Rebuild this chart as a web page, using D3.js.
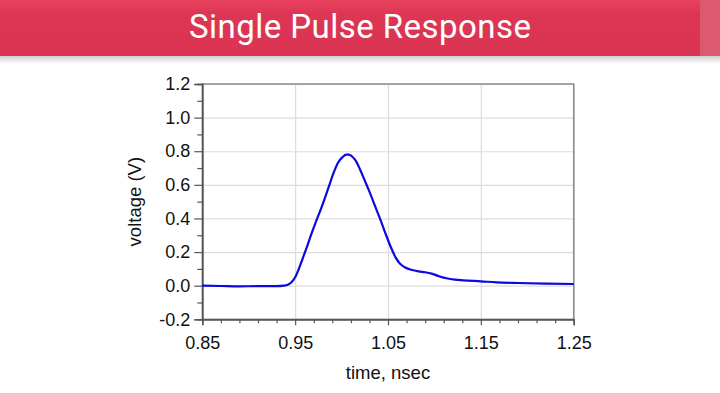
<!DOCTYPE html>
<html>
<head>
<meta charset="utf-8">
<title>Single Pulse Response</title>
<script src="https://cdn.jsdelivr.net/npm/d3@7"></script>
<style>
  body { margin: 0; background: #fff; }
  .axis text { font-family: "Liberation Sans", Arial, sans-serif; font-size: 18px; fill: #111; }
  .axis .domain { stroke: #555; stroke-width: 1.3; }
  .axis line { stroke: #555; stroke-width: 1.2; }
  .grid line { stroke: #dcdcdc; stroke-width: 1.2; }
  .grid .domain { display: none; }
  .label { font-family: "Liberation Sans", Arial, sans-serif; font-size: 18.5px; fill: #111; }
</style>
</head>
<body>
<script>
//Time in nsec
var times = [0.85, 0.87, 0.89, 0.91, 0.93, 0.938, 0.942, 0.946, 0.95, 0.954,
             0.958, 0.962, 0.966, 0.972, 0.98, 0.986, 0.991, 0.996, 1.001, 1.005,
             1.008, 1.011, 1.015, 1.02, 1.025, 1.03, 1.036, 1.042, 1.048, 1.053,
             1.058, 1.063, 1.068, 1.075, 1.083, 1.09, 1.097, 1.104, 1.113, 1.122,
             1.131, 1.15, 1.167, 1.19, 1.22, 1.25]

//Voltage in V
var voltages = [0, -0.002, -0.004, -0.003, -0.003, 0, 0.005, 0.02, 0.05, 0.1,
                0.16, 0.22, 0.285, 0.375, 0.49, 0.585, 0.665, 0.73, 0.765, 0.78,
                0.78, 0.77, 0.745, 0.69, 0.625, 0.56, 0.475, 0.39, 0.3, 0.23,
                0.17, 0.13, 0.11, 0.095, 0.085, 0.08, 0.072, 0.058, 0.044, 0.036,
                0.032, 0.026, 0.02, 0.016, 0.012, 0.01]

//Tick values
var xTicks = [0.85, 0.95, 1.05, 1.15, 1.25]
var yTicks = [-0.2, 0, 0.2, 0.4, 0.6, 0.8, 1.0, 1.2]

var svgwidth = 720,
    svgheight = 393;

var svg = d3.select("body").append("svg")
    .attr("width", svgwidth)
    .attr("height", svgheight);

//Banner gradients
var defs = svg.append("defs");
var bannerGrad = defs.append("linearGradient")
    .attr("id", "banner").attr("x1", 0).attr("y1", 0).attr("x2", 0).attr("y2", 1);
bannerGrad.append("stop").attr("offset", "0").attr("stop-color", "#e8425f");
bannerGrad.append("stop").attr("offset", "0.25").attr("stop-color", "#dd3655");
bannerGrad.append("stop").attr("offset", "1").attr("stop-color", "#db3453");

var shadowGrad = defs.append("linearGradient")
    .attr("id", "shadow").attr("x1", 0).attr("y1", 0).attr("x2", 0).attr("y2", 1);
shadowGrad.append("stop").attr("offset", "0").attr("stop-color", "#cfcfcf");
shadowGrad.append("stop").attr("offset", "1").attr("stop-color", "#ffffff");

//Banner
svg.append("rect").attr("x", 0).attr("y", 56).attr("width", svgwidth).attr("height", 8)
    .attr("fill", "url(#shadow)");
svg.append("rect").attr("x", 0).attr("y", 0).attr("width", svgwidth).attr("height", 56)
    .attr("fill", "url(#banner)");
svg.append("rect").attr("x", 700).attr("y", 0).attr("width", 20).attr("height", 56)
    .attr("fill", "#dc5a70");

svg.append("text")
    .attr("x", 360)
    .attr("y", 38)
    .attr("text-anchor", "middle")
    .attr("textLength", 342)
    .attr("lengthAdjust", "spacing")
    .style("font-family", "Roboto, 'Noto Sans', sans-serif")
    .style("font-size", "33px")
    .style("fill", "#fff")
    .text("Single Pulse Response");

//Plot area
var margin = {top: 84, right: 146.3, bottom: 73.7, left: 202.3},
    width = svgwidth - margin.left - margin.right,
    height = svgheight - margin.top - margin.bottom;

var x = d3.scaleLinear().domain([0.85, 1.25]).range([0, width]),
    y = d3.scaleLinear().domain([-0.2, 1.2]).range([height, 0]);

var g = svg.append("g")
    .attr("transform", "translate(" + margin.left + "," + margin.top + ")");

//Gridlines
g.append("g")
    .attr("class", "grid")
    .attr("transform", "translate(0," + height + ")")
    .call(d3.axisBottom(x).tickValues(xTicks).tickSize(-height).tickFormat(""));
g.append("g")
    .attr("class", "grid")
    .call(d3.axisLeft(y).tickValues(yTicks).tickSize(-width).tickFormat(""));

//Frame on top and right
g.append("rect")
    .attr("width", width)
    .attr("height", height)
    .attr("fill", "none")
    .attr("stroke", "#8a8a8a")
    .attr("stroke-width", 1.5);

//Minor ticks
var xMinor = d3.range(0.87, 1.25, 0.02).filter(function(d) {
  return Math.abs((d - 0.85) / 0.1 - Math.round((d - 0.85) / 0.1)) > 0.01; });
var yMinor = d3.range(-0.1, 1.2, 0.2);

g.append("g")
    .attr("class", "axis")
    .attr("transform", "translate(0," + height + ")")
    .call(d3.axisBottom(x).tickValues(xMinor).tickSize(4).tickFormat(""));
g.append("g")
    .attr("class", "axis")
    .call(d3.axisLeft(y).tickValues(yMinor).tickSize(5).tickFormat(""));

//Major axes, plain hyphen for negative numbers
var yFormat = function(d) { return d3.format(".1f")(d).replace("\u2212", "-"); };

g.append("g")
    .attr("class", "axis")
    .attr("transform", "translate(0," + height + ")")
    .call(d3.axisBottom(x).tickValues(xTicks).tickSize(6).tickPadding(11)
          .tickFormat(d3.format(".2f")));
g.append("g")
    .attr("class", "axis")
    .call(d3.axisLeft(y).tickValues(yTicks).tickSize(8).tickPadding(4)
          .tickFormat(yFormat));

//Axis labels
g.append("text")
    .attr("class", "label")
    .attr("transform", "rotate(-90)")
    .attr("x", -height / 2)
    .attr("y", -61)
    .attr("text-anchor", "middle")
    .text("voltage (V)");

g.append("text")
    .attr("class", "label")
    .attr("x", width / 2)
    .attr("y", height + 60)
    .attr("text-anchor", "middle")
    .text("time, nsec");

//Pulse trace
var data = times.map(function(t, i) { return {t: t, v: voltages[i]}; });

var line = d3.line()
    .x(function(d) { return x(d.t); })
    .y(function(d) { return y(d.v); })
    .curve(d3.curveMonotoneX);

g.append("path")
    .datum(data)
    .attr("fill", "none")
    .attr("stroke", "#0a0ae0")
    .attr("stroke-width", 2.2)
    .attr("stroke-linejoin", "round")
    .attr("d", line);
</script>
</body>
</html>
